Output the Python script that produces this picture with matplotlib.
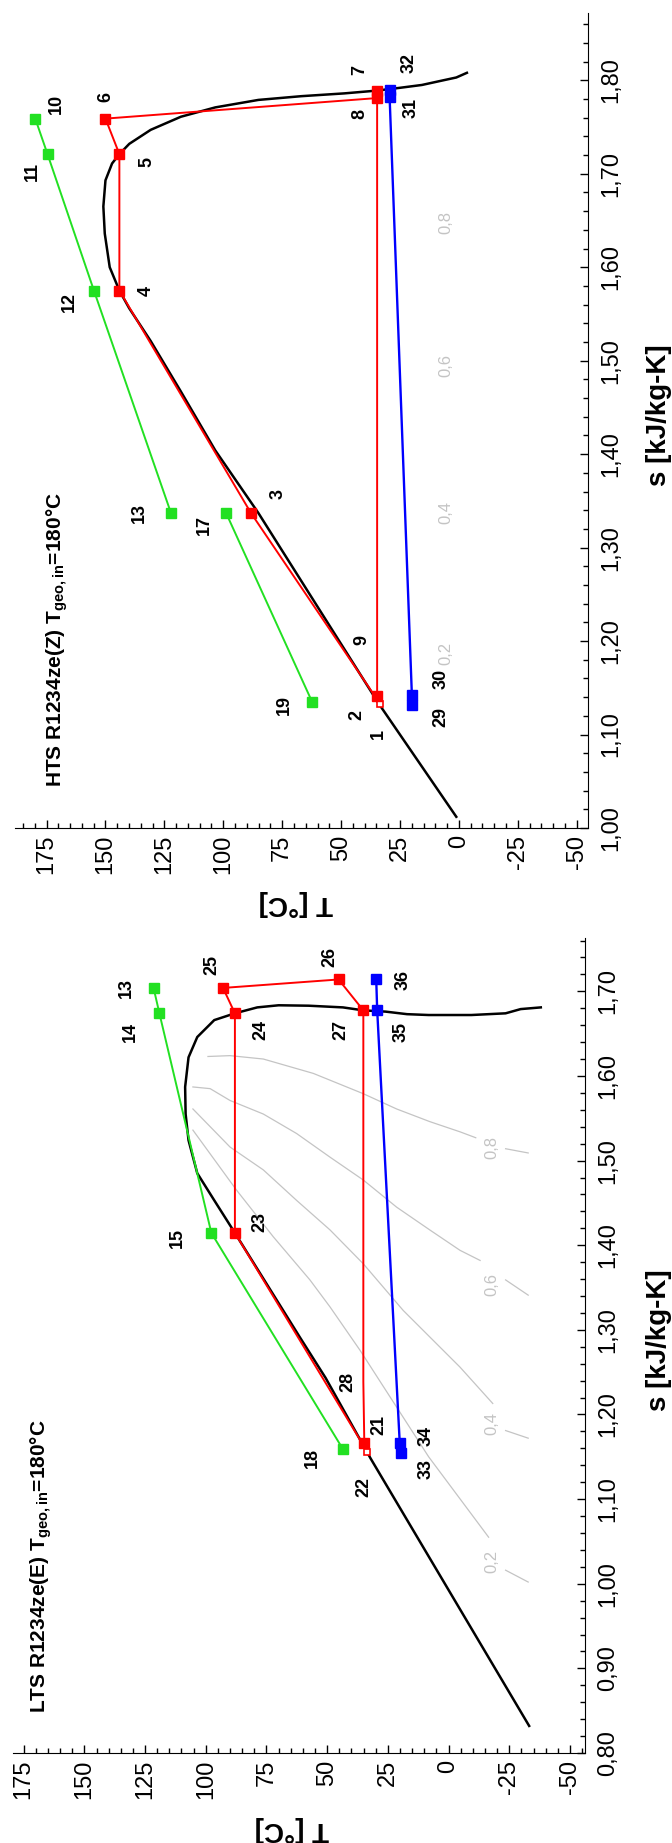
import matplotlib
matplotlib.use("Agg")
import matplotlib.pyplot as plt
from matplotlib.ticker import MultipleLocator, FuncFormatter

plt.rcParams['font.family'] = ['Liberation Sans', 'DejaVu Sans']
plt.rcParams['mathtext.fontset'] = 'custom'
plt.rcParams['mathtext.rm'] = 'Liberation Sans'
plt.rcParams['mathtext.bf'] = 'Liberation Sans:bold'

# ---------------- HTS R1234ze(Z) ----------------
hts_dome_T = [1.1, 34.0, 85.1, 103.4, 118.0, 130.8, 139.9, 144.1, 148.2, 150.3, 150.9, 150.0,
              147.2, 144.1, 139.9, 130.8, 118.0, 103.4, 85.1, 66.9, 48.6, 34.7, 24.9, 15.7, 6.6, 1.1, -3.4]
hts_dome_s = [1.012, 1.133, 1.337, 1.404, 1.467, 1.521, 1.556, 1.575, 1.600, 1.636, 1.665, 1.693,
              1.711, 1.721, 1.732, 1.747, 1.761, 1.771, 1.779, 1.783, 1.786, 1.789, 1.792, 1.795, 1.800, 1.803, 1.808]

hts_red_T = [33.5, 88.25, 144.1, 144.1, 150.0, 34.7, 34.7, 34.7, 34.7]
hts_red_s = [1.133, 1.337, 1.575, 1.721, 1.759, 1.781, 1.789, 1.200, 1.141]
hts_red_nomes = ['2', '3', '4', '5', '6', '8', '7', '9', '1']

hts_blue_T = [19.95, 19.95, 29.4, 29.4]
hts_blue_s = [1.132, 1.142, 1.782, 1.790]
hts_blue_nomes = ['29', '30', '31', '32']

hts_green1_T = [179.8, 174.6, 154.9, 122.2]
hts_green1_s = [1.759, 1.721, 1.575, 1.337]
hts_green1_nomes = ['10', '11', '12', '13']

hts_green2_T = [98.8, 62.3]
hts_green2_s = [1.337, 1.135]
hts_green2_nomes = ['17', '19']

hts_rot_nomes = ['10', '11', '12', '13', '17', '19', '6', '5', '4', '3', '9', '2', '1',
                 '7', '8', '32', '31', '30', '29']
hts_rot_T = [171.0, 181.0, 165.5, 135.4, 108.0, 74.2, 150.0, 132.6, 132.6, 76.9, 41.3, 43.1, 34.0,
             42.2, 42.2, 21.2, 20.3, 7.5, 7.5]
hts_rot_s = [1.775, 1.702, 1.563, 1.337, 1.324, 1.132, 1.782, 1.713, 1.575, 1.357, 1.201, 1.121, 1.101,
             1.811, 1.764, 1.818, 1.770, 1.160, 1.119]

hts_x_nomes = ['0,2', '0,4', '0,6', '0,8']
hts_x_T = [5.7, 5.7, 5.7, 5.7]
hts_x_s = [1.187, 1.338, 1.495, 1.648]

# ---------------- LTS R1234ze(E) ----------------
lts_dome_T = [-33.2, 32.1, 50.6, 61.2, 88.0, 96.5, 103.5, 107.1, 108.3, 108.5, 107.1, 103.5,
              96.5, 88.0, 78.8, 70.0, 57.6, 43.5, 35.1, 25.9, 17.1, 8.2, -9.4, -23.5, -29.7, -38.0]
lts_dome_s = [0.832, 1.148, 1.243, 1.291, 1.4145, 1.453, 1.485, 1.524, 1.555, 1.587, 1.622, 1.646,
              1.666, 1.674, 1.681, 1.6835, 1.683, 1.681, 1.6775, 1.676, 1.673, 1.672, 1.672, 1.674, 1.679, 1.681]

lts_red_T = [33.5, 88.0, 88.0, 92.9, 45.3, 35.1, 35.1, 34.7]
lts_red_s = [1.156, 1.4145, 1.674, 1.704, 1.714, 1.6775, 1.2385, 1.166]
lts_red_nomes = ['22', '23', '24', '25', '26', '27', '28', '21']

lts_blue_T = [19.4, 20.1, 29.4, 29.8]
lts_blue_s = [1.154, 1.166, 1.678, 1.715]
lts_blue_nomes = ['33', '34', '35', '36']

lts_green_T = [121.5, 119.1, 97.7, 43.5]
lts_green_s = [1.704, 1.674, 1.4145, 1.159]
lts_green_nomes = ['13', '14', '15', '18']

lts_rot_nomes = ['13', '14', '15', '18', '25', '26', '24', '27', '23', '28', '21', '22',
                 '36', '35', '34', '33']
lts_rot_T = [132.6, 130.9, 111.5, 55.9, 97.4, 48.8, 77.1, 44.4, 77.9, 41.3, 28.5, 34.7,
             18.8, 19.7, 9.1, 9.1]
lts_rot_s = [1.704, 1.652, 1.408, 1.148, 1.731, 1.741, 1.654, 1.654, 1.428, 1.2385, 1.187, 1.114,
             1.713, 1.652, 1.174, 1.136]

# linhas de titulo de vapor (x = 0,8 / 0,6 / 0,4 / 0,2)
q08_T = [99.1, 90.0, 76.3, 55.7, 35.1, 21.4, 7.7, -4.7, -11.2]
q08_s = [1.623, 1.624, 1.620, 1.603, 1.579, 1.561, 1.546, 1.534, 1.527]
q06_T = [105.3, 98.2, 90.0, 76.3, 62.6, 48.8, 35.1, 21.4, 7.7, -4.7, -13.0]
q06_s = [1.587, 1.585, 1.571, 1.555, 1.532, 1.504, 1.477, 1.445, 1.418, 1.394, 1.382]
q04_T = [105.3, 90.0, 76.3, 62.6, 48.8, 35.1, 18.7, -4.7, -18.2]
q04_s = [1.561, 1.516, 1.489, 1.453, 1.418, 1.378, 1.323, 1.256, 1.213]
q02_T = [105.3, 87.3, 72.2, 57.1, 48.8, 36.5, 8.2, -16.5]
q02_s = [1.536, 1.465, 1.410, 1.359, 1.327, 1.276, 1.150, 1.055]
q_cauda_T = [-23.5, -32.8]
q08_cauda_s = [1.514, 1.509]
q06_cauda_s = [1.359, 1.341]
q04_cauda_s = [1.181, 1.172]
q02_cauda_s = [1.016, 1.002]

lts_x_nomes = ['0,8', '0,6', '0,4', '0,2']
lts_x_T = [-18.0, -18.0, -18.0, -18.0]
lts_x_s = [1.516, 1.353, 1.189, 1.026]

VERMELHO = '#ff0000'
VERDE = '#22e022'
AZUL = '#0000ff'
CINZA = '#c4c4c4'


def formata_eixos(ax, T_lim, s_lim):
    ax.set_xlim(T_lim)
    ax.set_ylim(s_lim)
    ax.xaxis.set_major_locator(MultipleLocator(25))
    ax.xaxis.set_minor_locator(MultipleLocator(5))
    ax.yaxis.set_major_locator(MultipleLocator(0.1))
    ax.yaxis.set_minor_locator(MultipleLocator(0.02))
    ax.xaxis.set_major_formatter(FuncFormatter(lambda v, p: f"{v:.0f}"))
    ax.yaxis.set_major_formatter(FuncFormatter(lambda v, p: f"{v:.2f}".replace('.', ',')))
    ax.spines['top'].set_visible(False)
    ax.spines['left'].set_visible(False)
    ax.yaxis.tick_right()
    ax.tick_params(which='both', direction='in', width=1)
    ax.tick_params(which='major', length=6)
    ax.tick_params(which='minor', length=3.5)
    ax.tick_params(axis='x', labelrotation=90, labelsize=17, pad=5)
    ax.tick_params(axis='y', labelrotation=90, labelsize=17, pad=9)
    for lab in ax.get_yticklabels():
        lab.set_va('center')
    ax.patch.set_visible(False)


def rotula(ax, nomes, Ts, ss, **kw):
    for n, T, s in zip(nomes, Ts, ss):
        ax.text(T, s, n, rotation=90, ha='center', va='center', **kw)


def marcadores(ax, Ts, ss, nomes, cor, vazios=()):
    for n, T, s in zip(nomes, Ts, ss):
        if n == '9' or n == '28':
            continue
        if n in vazios:
            ax.plot(T, s, 's', ms=5, mfc='white', mec=cor, mew=1.2, zorder=5)
        else:
            ax.plot(T, s, 's', ms=6.5, color=cor, zorder=5)


fig = plt.figure(figsize=(6.72, 18.43), dpi=100)

# painel HTS (em cima)
ax1 = fig.add_axes([15 / 672, 1 - 828 / 1843, 573 / 672, 815 / 1843])
ax1.plot(hts_dome_T, hts_dome_s, color='black', lw=1.8, zorder=2)
ax1.plot(hts_green1_T, hts_green1_s, color=VERDE, lw=1.4, zorder=3)
ax1.plot(hts_green2_T, hts_green2_s, color=VERDE, lw=1.4, zorder=3)
ax1.plot(hts_red_T, hts_red_s, color=VERMELHO, lw=1.4, zorder=3)
ax1.plot(hts_blue_T, hts_blue_s, color=AZUL, lw=1.7, zorder=3)
marcadores(ax1, hts_green1_T, hts_green1_s, hts_green1_nomes, VERDE)
marcadores(ax1, hts_green2_T, hts_green2_s, hts_green2_nomes, VERDE)
marcadores(ax1, hts_red_T, hts_red_s, hts_red_nomes, VERMELHO, vazios=('2',))
marcadores(ax1, hts_blue_T, hts_blue_s, hts_blue_nomes, AZUL)
rotula(ax1, hts_rot_nomes, hts_rot_T, hts_rot_s, fontsize=13, fontweight='bold')
rotula(ax1, hts_x_nomes, hts_x_T, hts_x_s, fontsize=12, color=CINZA)
formata_eixos(ax1, (188.4, -54.8), (1.00, 1.872))

# painel LTS (em baixo)
ax2 = fig.add_axes([13 / 672, 1 - 1753 / 1843, 572 / 672, 815 / 1843])
for qT, qs, cs in [(q08_T, q08_s, q08_cauda_s), (q06_T, q06_s, q06_cauda_s),
                   (q04_T, q04_s, q04_cauda_s), (q02_T, q02_s, q02_cauda_s)]:
    ax2.plot(qT, qs, color=CINZA, lw=0.9, zorder=1)
    ax2.plot(q_cauda_T, cs, color=CINZA, lw=0.9, zorder=1)
ax2.plot(lts_dome_T, lts_dome_s, color='black', lw=1.8, zorder=2)
ax2.plot(lts_green_T, lts_green_s, color=VERDE, lw=1.4, zorder=3)
ax2.plot(lts_red_T, lts_red_s, color=VERMELHO, lw=1.4, zorder=3)
ax2.plot(lts_blue_T, lts_blue_s, color=AZUL, lw=1.7, zorder=3)
marcadores(ax2, lts_green_T, lts_green_s, lts_green_nomes, VERDE)
marcadores(ax2, lts_red_T, lts_red_s, lts_red_nomes, VERMELHO, vazios=('22',))
marcadores(ax2, lts_blue_T, lts_blue_s, lts_blue_nomes, AZUL)
rotula(ax2, lts_rot_nomes, lts_rot_T, lts_rot_s, fontsize=13, fontweight='bold')
rotula(ax2, lts_x_nomes, lts_x_T, lts_x_s, fontsize=12, color=CINZA)
formata_eixos(ax2, (179.4, -56.2), (0.80, 1.763))

# titulos e rotulos dos eixos
fig.text(57 / 672, 1 - 787 / 1843, r"HTS R1234ze(Z) T$_{\mathbf{geo,in}}$=180°C",
         rotation=90, ha='center', va='bottom', fontsize=15, fontweight='bold')
fig.text(41 / 672, 1 - 1713 / 1843, r"LTS R1234ze(E) T$_{\mathbf{geo,in}}$=180°C",
         rotation=90, ha='center', va='bottom', fontsize=15, fontweight='bold')
for y in (1 - 415 / 1843, 1 - 1340 / 1843):
    fig.text(659 / 672, y, "s [kJ/kg-K]", rotation=90, ha='center', va='center',
             fontsize=20, fontweight='bold')
fig.text(296 / 672, 1 - 903 / 1843, "T [°C]", rotation=180, ha='center', va='center',
         fontsize=20, fontweight='bold')
fig.text(292 / 672, 1 - 1829 / 1843, "T [°C]", rotation=180, ha='center', va='center',
         fontsize=20, fontweight='bold')

fig.savefig('out.png', dpi=100)
